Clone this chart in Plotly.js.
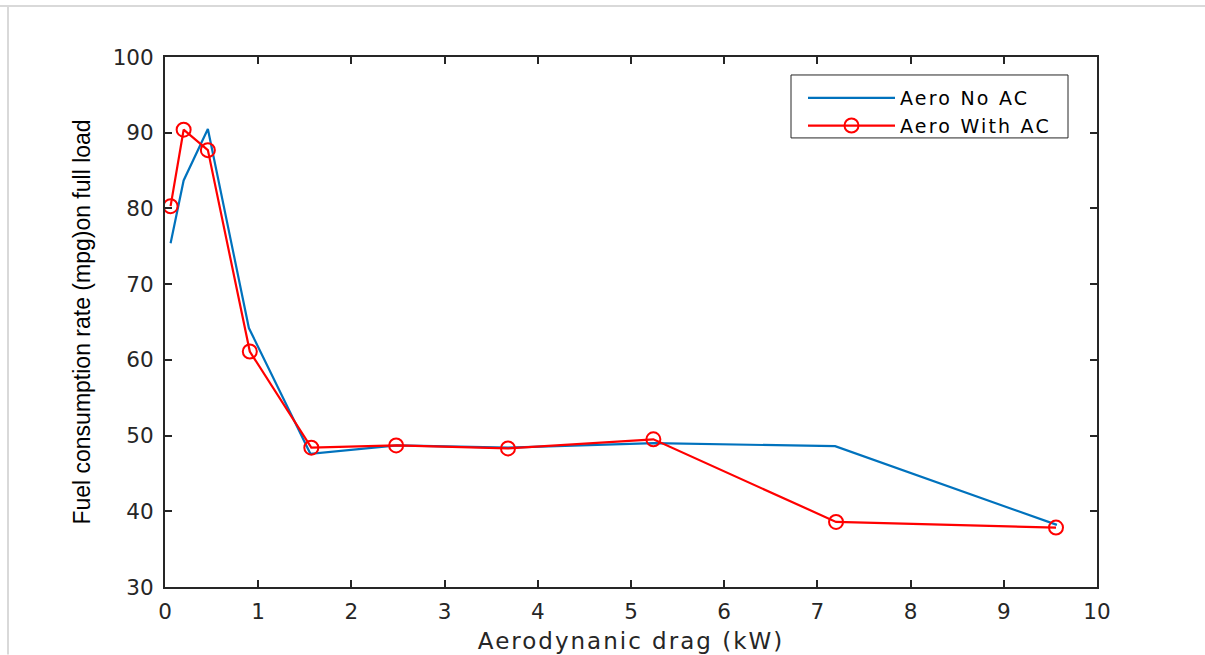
<!DOCTYPE html>
<html>
<head>
<meta charset="utf-8">
<script src="https://cdn.plot.ly/plotly-3.0.1.min.js"></script>
<style>
html,body{margin:0;padding:0;background:#fff;}
#chart{width:1205px;height:655px;}
.legendtext{letter-spacing:2.2px;}
.xtitle{letter-spacing:2px;}
</style>
</head>
<body>
<div id="chart"></div>
<script>
var dragNoAC = [0.06, 0.2, 0.46, 0.9, 1.56, 2.49, 3.68, 5.25, 7.19, 9.57];
var mpgNoAC = [75.4, 83.7, 90.5, 64.2, 47.6, 48.7, 48.4, 49.0, 48.6, 38.2];
var dragWithAC = [0.06, 0.2, 0.46, 0.91, 1.57, 2.48, 3.68, 5.24, 7.2, 9.56];
var mpgWithAC = [80.3, 90.4, 87.7, 61.1, 48.4, 48.7, 48.3, 49.5, 38.6, 37.85];
var seriesNames = ["Aero No AC", "Aero With AC"];
var xTicks = [0,1,2,3,4,5,6,7,8,9,10];
var yTicks = [30,40,50,60,70,80,90,100];

var wide = "DejaVu Sans, Verdana, sans-serif";
var arial = "Liberation Sans, Arial, sans-serif";
var traces = [
  {x: dragNoAC, y: mpgNoAC, name: seriesNames[0], mode: "lines",
   line: {color: "#0072BD", width: 2.2}},
  {x: dragWithAC, y: mpgWithAC, name: seriesNames[1], mode: "lines+markers",
   line: {color: "#FF0000", width: 2.2},
   marker: {symbol: "circle-open", size: 14, color: "#FF0000", line: {width: 2, color: "#FF0000"}}}
];
var axisCommon = {
  showline: true, mirror: "ticks", linecolor: "#262626", linewidth: 2,
  ticks: "inside", ticklen: 7, tickwidth: 2, tickcolor: "#262626",
  showgrid: false, zeroline: false,
  tickfont: {family: wide, size: 21.5, color: "#262626"}
};
function py(p){ return (587.5 - p) / 530.5; }
function px(p){ return (p - 165) / 932; }
var layout = {
  width: 1205, height: 655,
  margin: {l: 165, r: 108, t: 57, b: 67.5, pad: 0},
  paper_bgcolor: "#fff", plot_bgcolor: "#fff",
  showlegend: true,
  legend: {x: px(803), y: py(79), xanchor: "left", yanchor: "top",
    borderwidth: 0, bgcolor: "rgba(0,0,0,0)",
    itemwidth: 87, tracegroupgap: 0,
    font: {family: wide, size: 19, color: "#000"}},
  xaxis: Object.assign({}, axisCommon, {range: [0, 10], tickvals: xTicks, ticktext: xTicks.map(String),
    ticklabelstandoff: 4,
    title: {text: "Aerodynanic drag (kW)", font: {family: wide, size: 23, color: "#262626"}, standoff: 10}}),
  yaxis: Object.assign({}, axisCommon, {range: [30, 100], tickvals: yTicks, ticktext: yTicks.map(String),
    ticklabelstandoff: 5,
    title: {text: "Fuel consumption rate (mpg)on full load", font: {family: arial, size: 23, color: "#000"}, standoff: 16}}),
  shapes: [
    {type: "rect", xref: "paper", yref: "paper", x0: px(791), x1: px(1068), y0: py(138), y1: py(75),
     line: {color: "#262626", width: 1}, fillcolor: "rgba(255,255,255,0)", layer: "below"},
    {type: "line", xref: "paper", yref: "paper", x0: px(0), x1: px(1205), y0: py(6), y1: py(6),
     line: {color: "#d9d9d9", width: 2}},
    {type: "line", xref: "paper", yref: "paper", x0: px(8), x1: px(8), y0: py(655), y1: py(6),
     line: {color: "#d9d9d9", width: 2}}
  ]
};
Plotly.newPlot("chart", traces, layout, {displayModeBar: false, staticPlot: true});
</script>
</body>
</html>
